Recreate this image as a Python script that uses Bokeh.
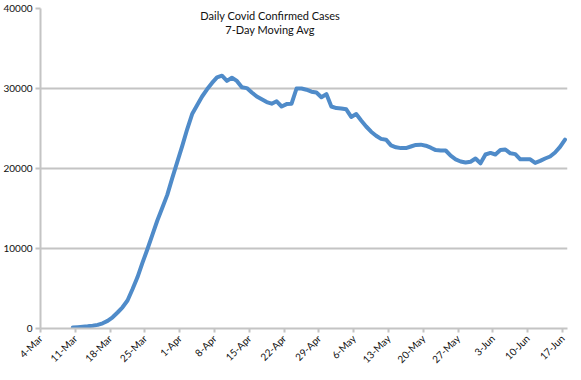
from datetime import datetime, timedelta
from bokeh.plotting import figure
from bokeh.models import Range1d, FixedTicker, DatetimeTickFormatter, BasicTickFormatter, Label
from bokeh.embed import file_html
from bokeh.resources import INLINE

# ---- data ----
first_day = datetime(2020, 3, 10)
cases_7day_avg = [
    120, 160, 210, 270, 350, 450, 650, 950, 1400, 2000,
    2650, 3500, 4900, 6400, 8200, 9900, 11700, 13500, 15100, 16700,
    18800, 20800, 22800, 24900, 26800, 27900, 29000, 29900, 30700, 31400,
    31600, 30950, 31350, 30950, 30150, 30050, 29500, 29000, 28650, 28300,
    28100, 28400, 27750, 28050, 28100, 30000, 30000, 29850, 29600, 29500,
    28900, 29300, 27750, 27550, 27500, 27400, 26450, 26800, 26000, 25250,
    24600, 24100, 23700, 23600, 22900, 22650, 22550, 22550, 22750, 22950,
    22980, 22850, 22600, 22300, 22260, 22250, 21600, 21150, 20880, 20750,
    20850, 21250, 20650, 21750, 21950, 21750, 22300, 22380, 21900, 21800,
    21150, 21150, 21150, 20700, 20950, 21250, 21500, 22000, 22700, 23600,
]
tick_dates = ["2020-03-04", "2020-03-11", "2020-03-18", "2020-03-25", "2020-04-01",
              "2020-04-08", "2020-04-15", "2020-04-22", "2020-04-29", "2020-05-06",
              "2020-05-13", "2020-05-20", "2020-05-27", "2020-06-03", "2020-06-10",
              "2020-06-17"]
y_ticks = [0, 10000, 20000, 30000, 40000]
title_lines = ["Daily Covid Confirmed Cases", "7-Day Moving Avg"]

# points sit in the middle of each day (Excel "between tick marks")
dates = [first_day + timedelta(days=i, hours=12) for i in range(len(cases_7day_avg))]
epoch = datetime(1970, 1, 1)
tick_ms = [(datetime.strptime(d, "%Y-%m-%d") - epoch).total_seconds() * 1000 for d in tick_dates]

FONT = "Lato"
GRID = "#c4c4c4"

p = figure(width=573, height=372, x_axis_type="datetime",
           output_backend="svg", toolbar_location=None,
           min_border_left=36, min_border_right=6, min_border_top=8, min_border_bottom=40)
p.x_range = Range1d(datetime(2020, 3, 4), datetime(2020, 6, 18))
p.y_range = Range1d(0, 40000)
p.outline_line_color = None
p.background_fill_color = "white"

p.line(dates, cases_7day_avg, line_color="#4f8bc9", line_width=4, line_join="round", line_cap="round")

# y axis
ya = p.yaxis[0]
ya.ticker = FixedTicker(ticks=y_ticks)
ya.formatter = BasicTickFormatter(use_scientific=False)
ya.axis_line_color = GRID
ya.axis_line_width = 2
ya.major_tick_line_color = GRID
ya.major_tick_line_width = 2
ya.major_tick_out = 5
ya.major_tick_in = 0
ya.minor_tick_line_color = None
ya.major_label_standoff = 3
ya.major_label_text_font = FONT
ya.major_label_text_font_size = "10px"
ya.major_label_text_color = "#111111"

# x axis
xa = p.xaxis[0]
xa.ticker = FixedTicker(ticks=tick_ms)
fmt = "%-d-%b"
xa.formatter = DatetimeTickFormatter(days=fmt, months=fmt, hours=fmt, hourmin=fmt,
                                     minutes=fmt, seconds=fmt, years=fmt)
xa.major_label_orientation = 0.785398
xa.axis_line_color = GRID
xa.axis_line_width = 2
xa.major_tick_line_color = GRID
xa.major_tick_line_width = 2
xa.major_tick_out = 4
xa.major_tick_in = 0
xa.minor_tick_line_color = None
xa.major_label_standoff = 4
xa.major_label_text_font = FONT
xa.major_label_text_font_size = "10px"
xa.major_label_text_color = "#111111"

p.xgrid.grid_line_color = None
p.ygrid.ticker = FixedTicker(ticks=y_ticks)
p.ygrid.grid_line_color = GRID
p.ygrid.grid_line_width = 2

title_x = datetime(2020, 4, 19, 5)
for txt, yv in zip(title_lines, [39100, 37350]):
    p.add_layout(Label(x=title_x, y=yv, text=txt, text_align="center", text_baseline="middle",
                       text_font=FONT, text_font_size="11px", text_color="#111111"))

open("out.html", "w").write(file_html(p, INLINE))
